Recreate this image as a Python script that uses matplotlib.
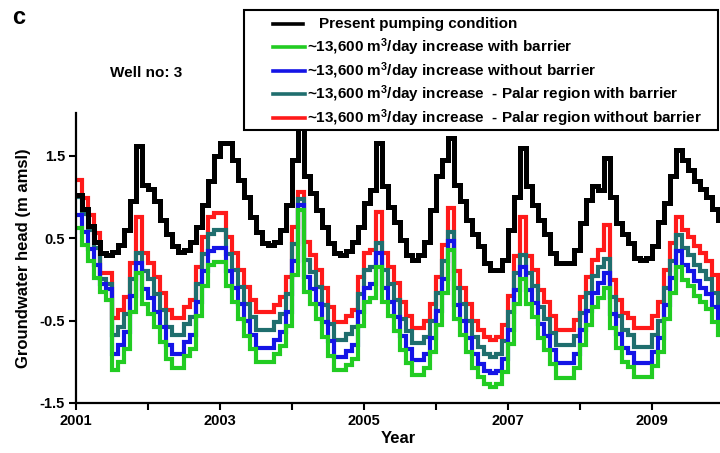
import matplotlib
matplotlib.use("Agg")
import matplotlib.pyplot as plt
from matplotlib.lines import Line2D
from matplotlib.patches import Rectangle
import numpy as np

plt.rcParams['font.family'] = ['Liberation Sans', 'DejaVu Sans']
plt.rcParams['font.weight'] = 'bold'
plt.rcParams['mathtext.default'] = 'regular'

# monthly values, Jan 2001 .. Dec 2009
present = [1.03, 0.85, 0.65, 0.45, 0.32, 0.30, 0.33, 0.42, 0.60, 0.95, 1.62, 1.15,
           1.10, 0.95, 0.72, 0.55, 0.40, 0.33, 0.36, 0.46, 0.64, 0.90, 1.20, 1.50,
           1.66, 1.66, 1.45, 1.21, 1.00, 0.76, 0.57, 0.44, 0.42, 0.45, 0.60, 0.90,
           1.45, 1.96, 1.25, 1.05, 0.84, 0.64, 0.44, 0.32, 0.30, 0.35, 0.45, 0.64,
           0.93, 1.09, 1.66, 1.13, 0.88, 0.70, 0.48, 0.30, 0.24, 0.30, 0.45, 0.84,
           1.25, 1.45, 1.72, 1.15, 0.95, 0.72, 0.55, 0.40, 0.20, 0.12, 0.12, 0.24,
           0.60, 1.00, 1.60, 1.13, 0.90, 0.72, 0.55, 0.32, 0.20, 0.20, 0.20, 0.36,
           0.68, 0.97, 1.13, 1.09, 1.47, 1.00, 0.68, 0.55, 0.44, 0.26, 0.24, 0.26,
           0.40, 0.70, 0.93, 1.25, 1.57, 1.45, 1.33, 1.20, 1.10, 1.00, 0.85, 0.72]

palar_without = [1.21, 0.99, 0.78, 0.56, 0.08, 0.08, -0.47, -0.37, -0.21, 0.20, 0.76, 0.32,
                 0.20, 0.03, -0.16, -0.37, -0.47, -0.47, -0.33, -0.25, 0.15, 0.52, 0.76, 0.81,
                 0.81, 0.52, 0.32, 0.12, -0.09, -0.25, -0.39, -0.39, -0.39, -0.31, -0.21, 0.03,
                 0.64, 1.06, 0.45, 0.30, 0.12, -0.10, -0.33, -0.52, -0.52, -0.45, -0.37, 0.03,
                 0.32, 0.36, 0.82, 0.32, 0.15, -0.04, -0.28, -0.45, -0.59, -0.59, -0.51, -0.30,
                 0.03, 0.42, 0.87, 0.10, -0.10, -0.30, -0.50, -0.62, -0.70, -0.73, -0.70, -0.55,
                 -0.20, 0.28, 0.76, 0.28, 0.12, -0.13, -0.28, -0.45, -0.61, -0.61, -0.61, -0.49,
                 -0.21, 0.03, 0.24, 0.36, 0.66, -0.01, -0.25, -0.41, -0.47, -0.59, -0.59, -0.59,
                 -0.45, -0.28, 0.12, 0.44, 0.76, 0.60, 0.52, 0.40, 0.32, 0.22, 0.05, -0.12]

palar_with = [1.00, 0.80, 0.60, 0.38, 0.00, -0.05, -0.68, -0.58, -0.42, 0.00, 0.32, 0.10,
              0.00, -0.18, -0.37, -0.58, -0.68, -0.68, -0.54, -0.46, -0.06, 0.31, 0.55, 0.60,
              0.60, 0.31, 0.11, -0.09, -0.30, -0.46, -0.61, -0.61, -0.61, -0.52, -0.42, -0.18,
              0.43, 0.98, 0.24, 0.09, -0.09, -0.31, -0.54, -0.73, -0.73, -0.66, -0.58, -0.18,
              0.11, 0.15, 0.44, 0.11, -0.06, -0.25, -0.48, -0.63, -0.77, -0.77, -0.70, -0.50,
              -0.17, 0.22, 0.57, -0.10, -0.30, -0.50, -0.70, -0.82, -0.90, -0.94, -0.90, -0.75,
              -0.40, 0.08, 0.30, 0.08, -0.08, -0.33, -0.48, -0.65, -0.80, -0.80, -0.80, -0.69,
              -0.41, -0.17, 0.04, 0.15, 0.25, -0.21, -0.45, -0.62, -0.68, -0.82, -0.82, -0.82,
              -0.67, -0.50, -0.10, 0.22, 0.54, 0.38, 0.30, 0.18, 0.10, 0.00, -0.16, -0.33]

without_barrier = [0.78, 0.57, 0.37, 0.17, -0.05, -0.12, -0.90, -0.80, -0.64, -0.20, 0.20, -0.12,
                   -0.22, -0.40, -0.58, -0.80, -0.90, -0.90, -0.76, -0.68, -0.28, 0.10, 0.34, 0.38,
                   0.38, 0.10, -0.10, -0.30, -0.51, -0.67, -0.83, -0.83, -0.83, -0.74, -0.64, -0.40,
                   0.22, 0.90, 0.03, -0.12, -0.30, -0.52, -0.75, -0.94, -0.94, -0.87, -0.79, -0.39,
                   -0.10, -0.06, 0.32, -0.10, -0.27, -0.46, -0.69, -0.85, -0.98, -0.98, -0.91, -0.71,
                   -0.38, 0.01, 0.47, -0.31, -0.51, -0.71, -0.91, -1.03, -1.11, -1.14, -1.11, -0.96,
                   -0.61, -0.13, 0.15, -0.13, -0.29, -0.54, -0.69, -0.86, -1.02, -1.02, -1.02, -0.90,
                   -0.62, -0.38, -0.17, -0.04, 0.08, -0.42, -0.66, -0.83, -0.89, -1.02, -1.02, -1.02,
                   -0.88, -0.71, -0.31, 0.02, 0.34, 0.18, 0.10, -0.02, -0.10, -0.18, -0.34, -0.50]

with_barrier = [0.63, 0.42, 0.22, 0.02, -0.15, -0.25, -1.10, -1.00, -0.84, -0.40, 0.08, -0.30,
                -0.42, -0.58, -0.76, -0.97, -1.07, -1.07, -0.93, -0.85, -0.45, -0.08, 0.17, 0.21,
                0.21, -0.08, -0.28, -0.48, -0.69, -0.85, -1.00, -1.00, -1.00, -0.91, -0.81, -0.57,
                0.05, 0.84, -0.15, -0.30, -0.48, -0.70, -0.93, -1.10, -1.10, -1.04, -0.96, -0.56,
                -0.27, -0.23, 0.15, -0.27, -0.44, -0.63, -0.86, -1.02, -1.16, -1.16, -1.08, -0.88,
                -0.55, -0.16, 0.36, -0.48, -0.68, -0.88, -1.08, -1.19, -1.27, -1.30, -1.27, -1.12,
                -0.78, -0.30, 0.00, -0.30, -0.46, -0.71, -0.86, -1.03, -1.20, -1.20, -1.20, -1.07,
                -0.79, -0.55, -0.34, -0.22, -0.10, -0.59, -0.83, -1.00, -1.06, -1.18, -1.18, -1.18,
                -1.05, -0.88, -0.48, -0.16, 0.15, -0.01, -0.08, -0.20, -0.28, -0.36, -0.52, -0.68]

labels = ["Present pumping condition",
          "~13,600 m$^{3}$/day increase with barrier",
          "~13,600 m$^{3}$/day increase without barrier",
          "~13,600 m$^{3}$/day increase  - Palar region with barrier",
          "~13,600 m$^{3}$/day increase  - Palar region without barrier"]
colors = ["#000000", "#22cc22", "#1414e6", "#1f6e6e", "#ff1a1a"]
series = [present, with_barrier, without_barrier, palar_with, palar_without]

start_year = 2001
n = len(present)
t = start_year + np.arange(n + 1) / 12.0

fig = plt.figure(figsize=(7.2, 4.53), dpi=100)
W, H = 720.0, 453.0
ax = fig.add_axes([76 / W, 1 - 403 / H, 1 - 76 / W, (403 - 113) / H])

draw_order = [4, 3, 2, 1, 0]
for k, i in enumerate(draw_order):
    vals = list(series[i]) + [series[i][-1]]
    ax.step(t, vals, where='post', color=colors[i], lw=3.6 if i == 0 else 3.0,
            solid_joinstyle='miter', zorder=2 + k * 0.1)

ax.set_xlim(2001, 2009.95)
ax.set_ylim(-1.5, 2.02)
ax.set_xticks(np.arange(2001, 2010))
ax.set_xticklabels([str(y) if (y - 2001) % 2 == 0 else "" for y in range(2001, 2010)])
ax.set_yticks([-1.5, -0.5, 0.5, 1.5])
ax.set_yticklabels(["-1.5", "-0.5", "0.5", "1.5"])
for s in ['top', 'right']:
    ax.spines[s].set_visible(False)
for s in ['left', 'bottom']:
    ax.spines[s].set_linewidth(1.6)
ax.tick_params(direction='out', length=5, width=1.5, labelsize=10.5, pad=3)
for lab in ax.get_xticklabels() + ax.get_yticklabels():
    lab.set_fontweight('bold')
ax.set_xlabel("Year", fontsize=12, fontweight='bold', labelpad=2)
ax.set_ylabel("Groundwater head (m amsl)", fontsize=12, fontweight='bold', labelpad=6)

fig.text(12 / W, 1 - 17 / H, "c", fontsize=17, fontweight='bold', va='center', ha='left')
fig.text(110 / W, 1 - 73 / H, "Well no: 3", fontsize=11, fontweight='bold', va='center', ha='left')

# legend box
box = Rectangle((244 / W, 1 - 130 / H), (718 - 244) / W, 120 / H, transform=fig.transFigure,
                fill=True, facecolor='white', edgecolor='black', lw=1.5, zorder=5)
fig.add_artist(box)
rows = [24, 47, 71, 94, 118]
for i, (lab, c, y) in enumerate(zip(labels, colors, rows)):
    x0, x1 = (273, 303) if i == 0 else (273, 305)
    fig.add_artist(Line2D([x0 / W, x1 / W], [1 - y / H, 1 - y / H], transform=fig.transFigure,
                          color=c, lw=2.6, zorder=6))
    tx = 319 if i == 0 else 307
    fig.text(tx / W, 1 - y / H, lab, fontsize=11, fontweight='bold', va='center', ha='left',
             zorder=7)

fig.savefig("out.png", dpi=100)
